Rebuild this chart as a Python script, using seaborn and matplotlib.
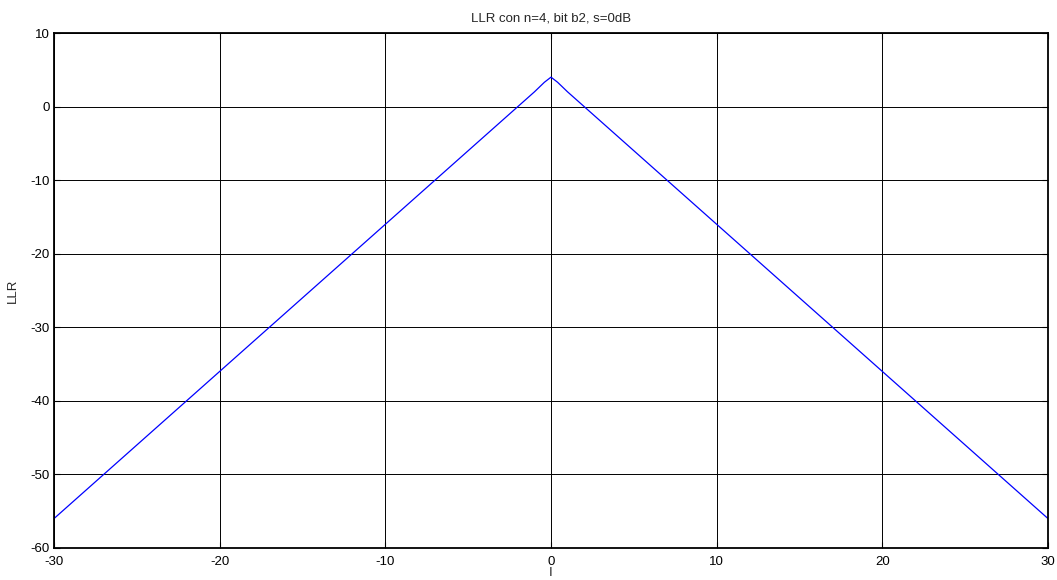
import matplotlib
matplotlib.use("Agg")
import matplotlib.pyplot as plt
import seaborn as sns
import pandas as pd

# Data
I_vals = [-30, -20, -10, -5, -2, -1, -0.4, 0, 0.4, 1, 2, 5, 10, 20, 30]
LLR_vals = [-56, -36, -16, -6, 0, 2, 3.3, 4.0, 3.3, 2, 0, -6, -16, -36, -56]
x_ticks = [-30, -20, -10, 0, 10, 20, 30]
y_ticks = [-60, -50, -40, -30, -20, -10, 0, 10]
title = "LLR con n=4, bit b2, s=0dB"

sns.set_style("white")
plt.rcParams['font.family'] = ['Liberation Sans', 'DejaVu Sans']
plt.rcParams['axes.unicode_minus'] = False

df = pd.DataFrame({"I": I_vals, "LLR": LLR_vals})

fig = plt.figure(figsize=(10.57, 5.80), dpi=100)
ax = fig.add_axes([54/1057, 1 - 548/580, (1048-54)/1057, (548-33)/580])

sns.lineplot(data=df, x="I", y="LLR", ax=ax, color="#0000FF", linewidth=0.9, sort=False)

ax.set_xlim(-30, 30)
ax.set_ylim(-60, 10)
ax.set_xticks(x_ticks)
ax.set_yticks(y_ticks)
ax.grid(True, color="black", linewidth=0.7, linestyle="-")
ax.set_axisbelow(True)
for s in ax.spines.values():
    s.set_visible(True)
    s.set_color("black")
    s.set_linewidth(1.3)
ax.tick_params(direction="in", length=4, width=0.8, colors="black", labelsize=9.5,
               top=True, right=True, bottom=True, left=True)
ax.tick_params(axis="x", pad=6)
ax.tick_params(axis="y", pad=3)
ax.set_xlabel("I", fontsize=9.5, labelpad=-1)
ax.set_ylabel("LLR", fontsize=9.5, labelpad=8)
ax.set_title(title, fontsize=9.5, pad=8)

fig.savefig("out.png", dpi=100)
